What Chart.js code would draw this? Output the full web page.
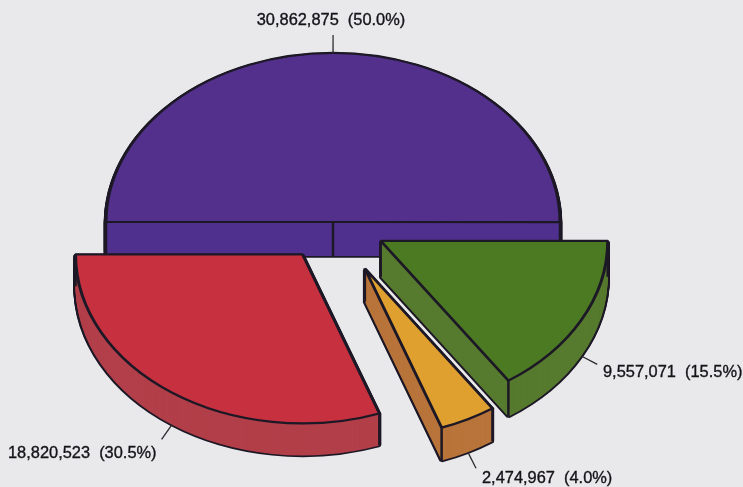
<!DOCTYPE html>
<html>
<head>
<meta charset="utf-8">
<title>Exploded pie</title>
<style>
  html, body { margin: 0; padding: 0; background: #e9e9eb; }
  canvas { display: block; }
</style>
<script src="https://cdn.jsdelivr.net/npm/chart.js@4"></script>
</head>
<body>
<canvas id="myPieChart" width="743" height="487"></canvas>
<script>
var values = [30862875, 9557071, 2474967, 18820523];
var topColors = ['#52308c', '#4b7a23', '#e0a030', '#c6303f'];
var wallColors = ['#50308e', '#567a2e', '#b8743a', '#b23f49'];

// how far each slice is pulled out, and how tall its wall is
var explode = [0, 54, 70, 53];
var depth = [34, 36, 33, 32];

// text anchors for the value labels
var labelX = [331, 603, 482, 8];
var labelY = [20, 372, 478, 453];
var labelAlign = ['center', 'left', 'left', 'left'];

var tilt = 0.745;
var edgeColor = '#1d1826';
var leaderLength = 18;

function labelText(i) {
    var total = values.reduce(function (a, b) { return a + b; }, 0);
    return values[i].toLocaleString('en-US') + '  (' + (values[i] / total * 100).toFixed(1) + '%)';
}

var pie3d = {
    id: 'pie3d',
    beforeDatasetsDraw: function (chart) {
        var ctx = chart.ctx;
        var arcs = chart.getDatasetMeta(0).data;

        arcs.forEach(function (arc, i) {
            var mid = (arc.startAngle + arc.endAngle) / 2;
            var ox = Math.cos(mid) * explode[i];
            var oy = Math.sin(mid) * explode[i] * tilt;
            var base = arc.options;

            function face(dy, fill, width) {
                ctx.save();
                ctx.translate(arc.x + ox, arc.y + oy + dy);
                ctx.scale(1, tilt);
                ctx.translate(-arc.x, -arc.y);
                arc.options = Object.assign({}, base, { backgroundColor: fill, borderColor: edgeColor, borderWidth: width });
                arc.draw(ctx);
                ctx.restore();
            }

            // side wall: dark sweep first, then the fill leaves only the outline
            var d;
            for (d = depth[i]; d > 0; d--) face(d, edgeColor, 4.5);
            for (d = depth[i]; d > 0; d--) face(d, wallColors[i], 0);

            // vertical edges at the apex and at both outer corners
            var ax = arc.x + ox, ay = arc.y + oy;
            var points = [[ax, ay]];
            [arc.startAngle, arc.endAngle].forEach(function (a) {
                points.push([ax + Math.cos(a) * arc.outerRadius, ay + Math.sin(a) * arc.outerRadius * tilt]);
            });
            ctx.strokeStyle = edgeColor;
            ctx.lineWidth = 2.5;
            points.forEach(function (p) {
                ctx.beginPath();
                ctx.moveTo(p[0], p[1]);
                ctx.lineTo(p[0], p[1] + depth[i]);
                ctx.stroke();
            });

            face(0, topColors[i], 3);
            arc.options = base;

            // leader line from the bottom of the rim, then the label
            var wall = Math.sin(mid) > 0 ? depth[i] : 0;
            var lx = ax + Math.cos(mid) * arc.outerRadius;
            var ly = ay + Math.sin(mid) * arc.outerRadius * tilt + wall;
            ctx.strokeStyle = '#2a2a2e';
            ctx.lineWidth = 1.3;
            ctx.beginPath();
            ctx.moveTo(lx, ly);
            ctx.lineTo(lx + Math.cos(mid) * leaderLength, ly + Math.sin(mid) * leaderLength);
            ctx.stroke();

            ctx.fillStyle = '#141418';
            ctx.strokeStyle = '#141418';
            ctx.lineWidth = 0.35;
            ctx.font = '16.4px "Liberation Sans", Arial, sans-serif';
            ctx.textAlign = labelAlign[i];
            ctx.textBaseline = 'middle';
            ctx.fillText(labelText(i), labelX[i], labelY[i]);
            ctx.strokeText(labelText(i), labelX[i], labelY[i]);
        });
        return false;
    }
};

var ctx = document.getElementById('myPieChart').getContext('2d');
var myPieChart = new Chart(ctx, {
    type: 'pie',
    data: {
        labels: values.map(function (v, i) { return labelText(i); }),
        datasets: [{
            data: values,
            backgroundColor: topColors,
            borderColor: edgeColor,
            borderWidth: 3,
            radius: 227
        }]
    },
    options: {
        responsive: false,
        animation: false,
        rotation: -90,
        layout: { padding: { left: 0, top: 0, right: 77, bottom: 43 } },
        plugins: {
            legend: { display: false },
            tooltip: { enabled: false }
        }
    },
    plugins: [pie3d]
});
</script>
</body>
</html>
